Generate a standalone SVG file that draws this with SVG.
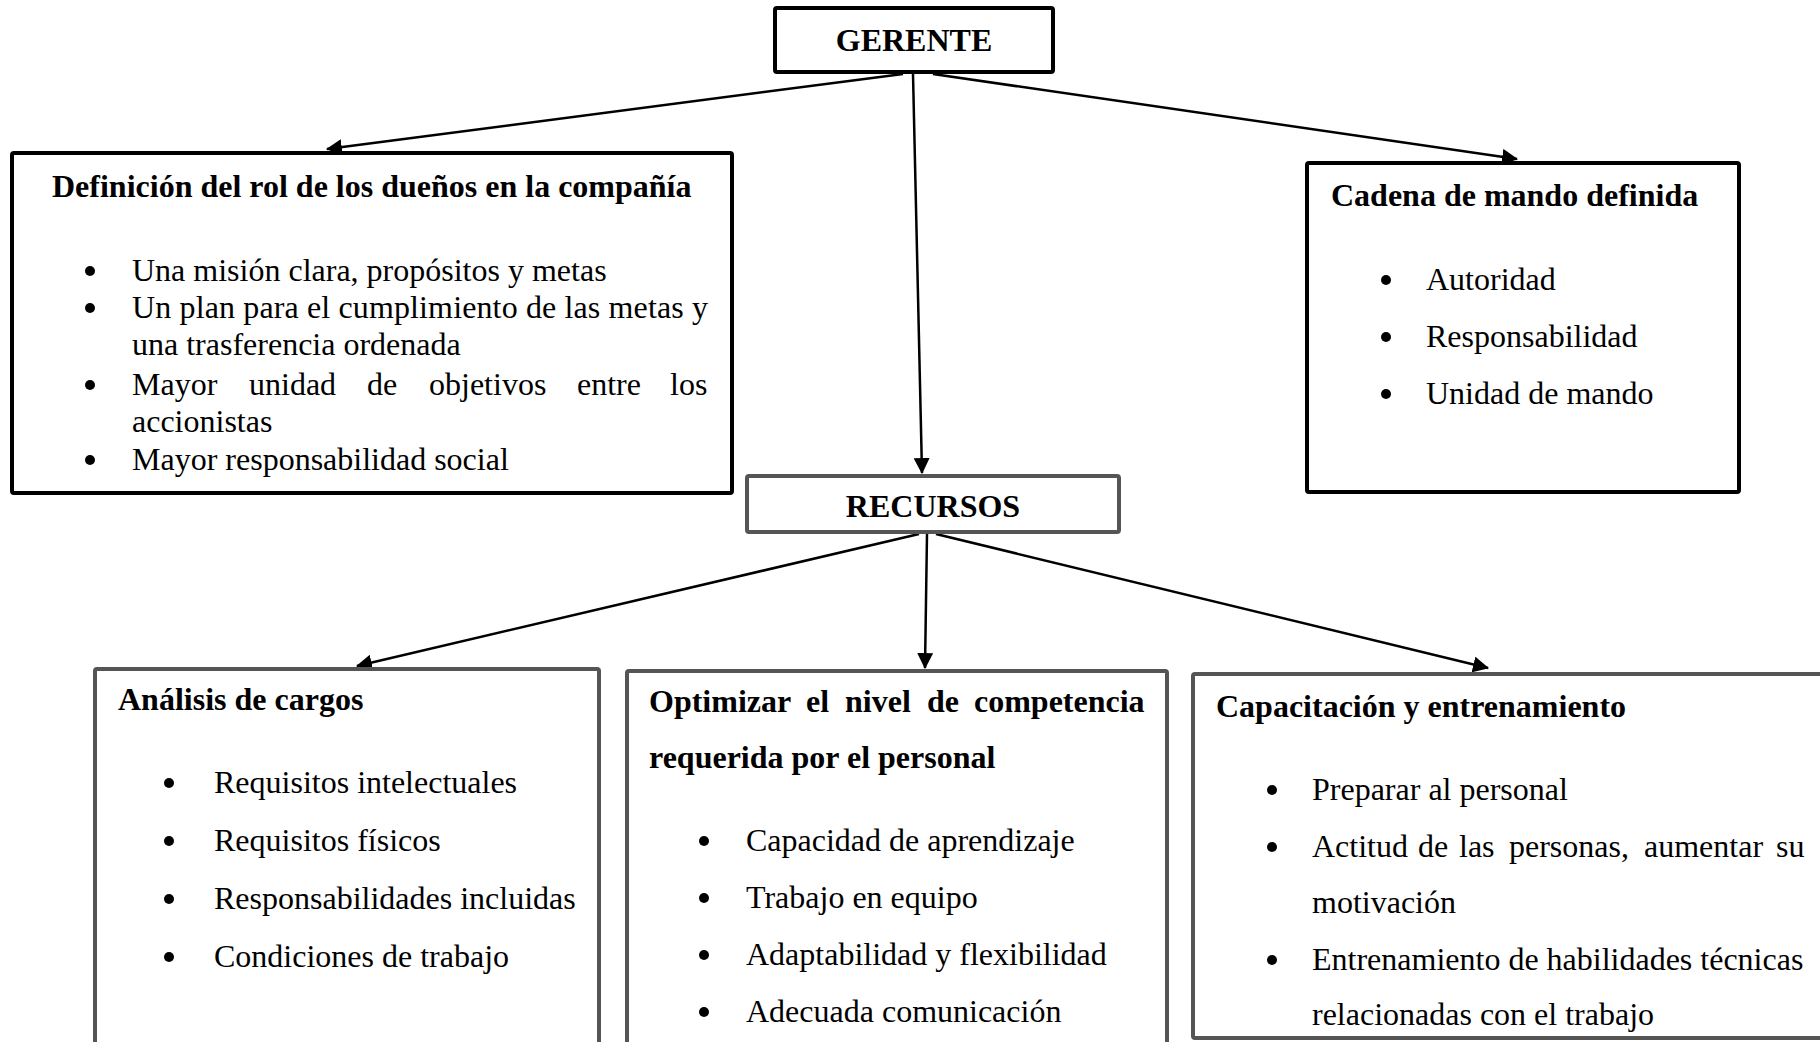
<svg xmlns="http://www.w3.org/2000/svg" width="1820" height="1042" viewBox="0 0 1820 1042">
<defs>
<style>
.bx{fill:#fff;stroke:#000;stroke-width:4}
.gx{fill:#fff;stroke:#555;stroke-width:4}
.t{font-family:"Liberation Serif","Times New Roman",serif;font-size:32px;fill:#000}
.b{font-weight:bold}
.c{text-anchor:middle}
.con{stroke:#000;stroke-width:2.5;fill:none;marker-end:url(#ah)}
.dot{fill:#000}
</style>
<marker id="ah" markerUnits="userSpaceOnUse" markerWidth="16" markerHeight="16" viewBox="0 0 15 15" refX="14" refY="7.5" orient="auto">
<path d="M0,0 L15,7.5 L0,15 z" fill="#000"/>
</marker>
</defs>
<rect width="1820" height="1042" fill="#fff"/>

<g id="connectors">
<line class="con" x1="903" y1="74" x2="327" y2="149"/>
<line class="con" x1="913" y1="74" x2="922" y2="473"/>
<line class="con" x1="933" y1="74" x2="1517" y2="159"/>
<line class="con" x1="919" y1="534" x2="357" y2="666"/>
<line class="con" x1="927" y1="534" x2="925" y2="668"/>
<line class="con" x1="936" y1="534" x2="1488" y2="668"/>
</g>

<g id="gerente">
<rect class="bx" x="775" y="8" width="278" height="64" rx="2"/>
<text class="t b c" x="914" y="51">GERENTE</text>
</g>

<g id="definicion">
<rect class="bx" x="12" y="153" width="720" height="340" rx="2"/>
<text class="t b" x="52" y="197">Definición del rol de los dueños en la compañía</text>
<circle class="dot" cx="90" cy="271" r="5"/>
<text class="t" x="132" y="281">Una misión clara, propósitos y metas</text>
<circle class="dot" cx="90" cy="308" r="5"/>
<text class="t" x="132" y="318" textLength="576" lengthAdjust="spacing">Un plan para el cumplimiento de las metas y</text>
<text class="t" x="132" y="355">una trasferencia ordenada</text>
<circle class="dot" cx="90" cy="385" r="5"/>
<text class="t" y="395"><tspan x="132">Mayor</tspan><tspan x="249">unidad</tspan><tspan x="367">de</tspan><tspan x="429">objetivos</tspan><tspan x="577">entre</tspan><tspan x="670">los</tspan></text>
<text class="t" x="132" y="432">accionistas</text>
<circle class="dot" cx="90" cy="460" r="5"/>
<text class="t" x="132" y="470">Mayor responsabilidad social</text>
</g>

<g id="cadena">
<rect class="bx" x="1307" y="163" width="432" height="329" rx="2"/>
<text class="t b" x="1331" y="206">Cadena de mando definida</text>
<circle class="dot" cx="1386" cy="280" r="5"/>
<text class="t" x="1426" y="290">Autoridad</text>
<circle class="dot" cx="1386" cy="337" r="5"/>
<text class="t" x="1426" y="347">Responsabilidad</text>
<circle class="dot" cx="1386" cy="394" r="5"/>
<text class="t" x="1426" y="404">Unidad de mando</text>
</g>

<g id="recursos">
<rect class="gx" x="747" y="476" width="372" height="56" rx="2"/>
<text class="t b c" x="933" y="517">RECURSOS</text>
</g>

<g id="analisis">
<rect class="gx" x="95" y="669" width="504" height="420" rx="2"/>
<text class="t b" x="118" y="710">Análisis de cargos</text>
<circle class="dot" cx="169" cy="783" r="5"/>
<text class="t" x="214" y="793">Requisitos intelectuales</text>
<circle class="dot" cx="169" cy="841" r="5"/>
<text class="t" x="214" y="851">Requisitos físicos</text>
<circle class="dot" cx="169" cy="899" r="5"/>
<text class="t" x="214" y="909">Responsabilidades incluidas</text>
<circle class="dot" cx="169" cy="957" r="5"/>
<text class="t" x="214" y="967">Condiciones de trabajo</text>
</g>

<g id="optimizar">
<rect class="gx" x="627" y="671" width="540" height="420" rx="2"/>
<text class="t b" y="712"><tspan x="649">Optimizar</tspan><tspan x="806">el</tspan><tspan x="845">nivel</tspan><tspan x="927">de</tspan><tspan x="974">competencia</tspan></text>
<text class="t b" x="649" y="768">requerida por el personal</text>
<circle class="dot" cx="704" cy="841" r="5"/>
<text class="t" x="746" y="851">Capacidad de aprendizaje</text>
<circle class="dot" cx="704" cy="898" r="5"/>
<text class="t" x="746" y="908">Trabajo en equipo</text>
<circle class="dot" cx="704" cy="955" r="5"/>
<text class="t" x="746" y="965">Adaptabilidad y flexibilidad</text>
<circle class="dot" cx="704" cy="1012" r="5"/>
<text class="t" x="746" y="1022">Adecuada comunicación</text>
</g>

<g id="capacitacion">
<rect class="gx" x="1193" y="674" width="700" height="364" rx="2"/>
<text class="t b" x="1216" y="717">Capacitación y entrenamiento</text>
<circle class="dot" cx="1272" cy="790" r="5"/>
<text class="t" x="1312" y="800">Preparar al personal</text>
<circle class="dot" cx="1272" cy="847" r="5"/>
<text class="t" y="857"><tspan x="1312">Actitud</tspan><tspan x="1418">de</tspan><tspan x="1459">las</tspan><tspan x="1509">personas,</tspan><tspan x="1644">aumentar</tspan><tspan x="1776">su</tspan></text>
<text class="t" x="1312" y="913">motivación</text>
<circle class="dot" cx="1272" cy="960" r="5"/>
<text class="t" x="1312" y="970">Entrenamiento de habilidades técnicas</text>
<text class="t" x="1312" y="1025">relacionadas con el trabajo</text>
</g>
</svg>
